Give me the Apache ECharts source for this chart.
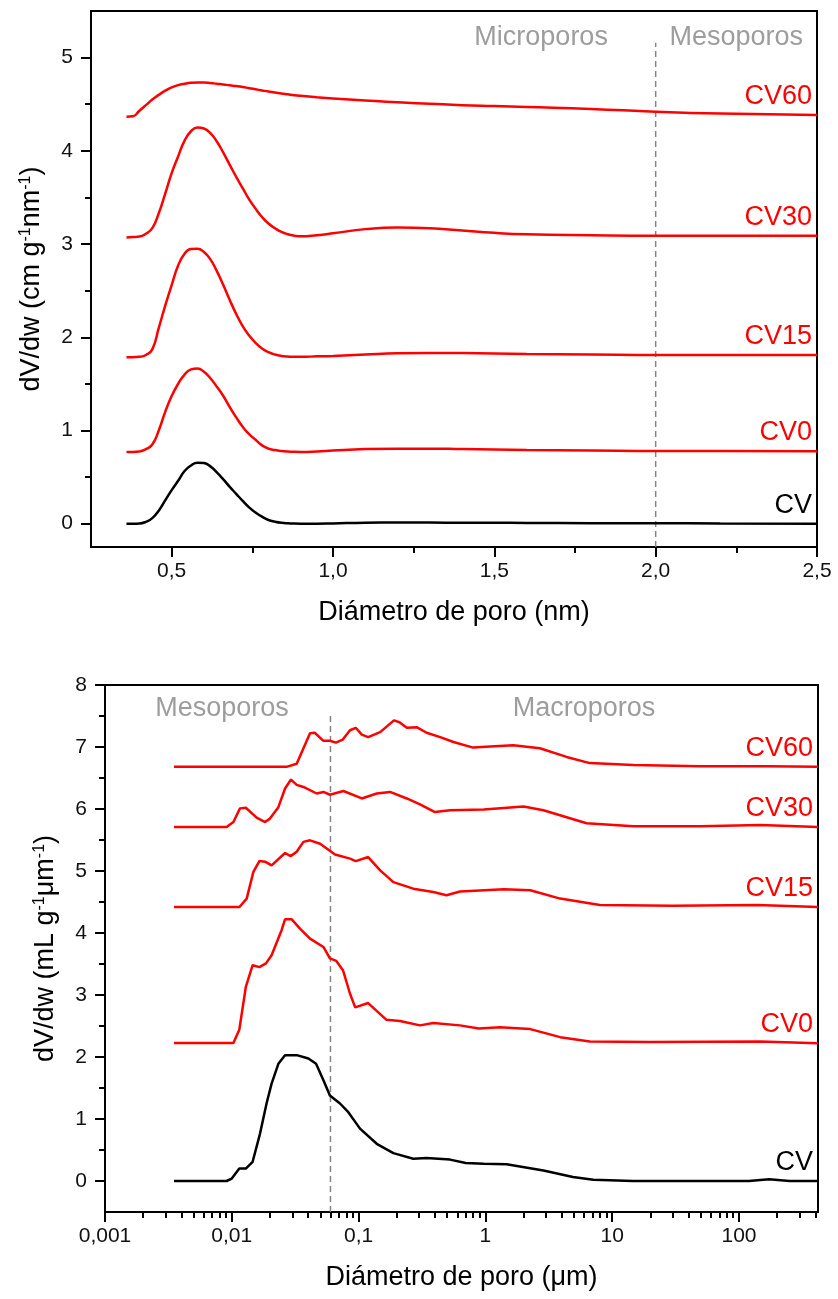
<!DOCTYPE html>
<html><head><meta charset="utf-8">
<script src="https://cdn.jsdelivr.net/npm/echarts@6/dist/echarts.min.js"></script>
<style>html,body{margin:0;padding:0;background:#fff}#c{width:838px;height:1299px}</style>
</head><body><div id="c"></div>
<script>
// ---------- Top panel: pore diameter (nm) ----------
const topX = [0.36,0.38,0.40,0.42,0.44,0.46,0.48,0.50,0.52,0.54,0.56,0.58,0.60,0.62,0.64,0.66,0.68,0.70,0.72,0.74,0.76,0.78,0.80,0.82,0.84,0.86,0.88,0.90,0.95,1.0,1.1,1.2,1.3,1.4,1.5,1.6,1.8,2.0,2.2,2.5];
const topCV   = [0,0,0.002,0.02,0.06,0.14,0.25,0.36,0.46,0.565,0.625,0.655,0.65,0.615,0.55,0.475,0.395,0.32,0.245,0.175,0.12,0.075,0.04,0.022,0.01,0.004,0.001,0,0,0.003,0.01,0.012,0.012,0.01,0.01,0.008,0.006,0.005,0.003,0];
const topCV0  = [0.77,0.77,0.775,0.80,0.85,1.00,1.20,1.37,1.50,1.60,1.655,1.665,1.63,1.56,1.47,1.37,1.25,1.14,1.04,0.96,0.90,0.84,0.805,0.79,0.78,0.774,0.771,0.77,0.775,0.785,0.80,0.805,0.805,0.80,0.795,0.79,0.785,0.78,0.78,0.778];
const topCV15 = [1.785,1.785,1.79,1.81,1.87,2.10,2.34,2.56,2.77,2.895,2.948,2.95,2.915,2.835,2.71,2.56,2.40,2.25,2.12,2.02,1.94,1.88,1.84,1.815,1.80,1.793,1.79,1.79,1.795,1.80,1.815,1.828,1.832,1.83,1.825,1.82,1.815,1.81,1.81,1.81];
const topCV30 = [3.07,3.075,3.08,3.11,3.17,3.33,3.54,3.76,3.94,4.11,4.21,4.25,4.24,4.19,4.10,3.98,3.85,3.72,3.60,3.48,3.38,3.29,3.22,3.17,3.13,3.105,3.09,3.083,3.095,3.115,3.16,3.178,3.17,3.145,3.12,3.105,3.095,3.09,3.09,3.09];
const topCV60 = [4.365,4.37,4.43,4.49,4.55,4.60,4.645,4.68,4.705,4.72,4.73,4.733,4.733,4.728,4.72,4.712,4.703,4.695,4.685,4.672,4.66,4.648,4.636,4.625,4.615,4.606,4.597,4.59,4.575,4.562,4.54,4.52,4.505,4.49,4.48,4.47,4.45,4.42,4.40,4.385];
const topXTicks = [0.5,1.0,1.5,2.0,2.5];
const topXMinor = [0.75,1.25,1.75,2.25];
const topYTicks = [0,1,2,3,4,5];
const topYMinor = [0.5,1.5,2.5,3.5,4.5];
const topBoundaryX = 2.0, topBoundaryY = [-0.25, 5.16];
const topNotes = [{name:'Microporos', x:1.645, y:5.22},{name:'Mesoporos', x:2.25, y:5.22}];

// ---------- Bottom panel: pore diameter (µm), log axis ----------
const cvX  = [0.0035,0.0091,0.010,0.01146,0.0129,0.0146,0.0167,0.0188,0.0206,0.0233,0.0263,0.0325,0.0402,0.0462,0.0528,0.0594,0.0713,0.083,0.1026,0.139,0.188,0.27,0.344,0.526,0.70,0.97,1.47,2.87,4.9,7.1,14.6,120,173,250,420];
const cvY  = [0,0,0.04,0.20,0.20,0.31,0.765,1.25,1.57,1.89,2.03,2.03,1.975,1.89,1.625,1.38,1.25,1.11,0.845,0.60,0.45,0.36,0.37,0.345,0.29,0.28,0.27,0.17,0.065,0.02,0,0,0.03,0,0];
const cv0X = [0.0035,0.0103,0.01146,0.0129,0.0146,0.0165,0.0186,0.0206,0.0247,0.0263,0.0297,0.0345,0.0414,0.0528,0.0594,0.0667,0.0753,0.0856,0.094,0.119,0.166,0.212,0.305,0.388,0.63,0.89,1.30,2.26,3.89,6.66,19.6,147,420];
const cv0Y = [2.226,2.226,2.44,3.13,3.48,3.45,3.51,3.64,4.045,4.22,4.22,4.07,3.91,3.775,3.59,3.55,3.40,3.02,2.80,2.87,2.60,2.58,2.51,2.55,2.51,2.46,2.48,2.45,2.32,2.25,2.24,2.25,2.22];
const cv15X = [0.0035,0.0115,0.0131,0.0148,0.0165,0.0183,0.0206,0.0263,0.0291,0.0325,0.0367,0.0414,0.0497,0.0652,0.0856,0.095,0.119,0.148,0.188,0.27,0.388,0.494,0.63,1.40,2.26,3.89,8.0,30,140,420];
const cv15Y = [4.42,4.42,4.555,4.985,5.16,5.15,5.09,5.29,5.24,5.31,5.47,5.495,5.44,5.265,5.20,5.16,5.225,5.01,4.82,4.715,4.66,4.61,4.67,4.705,4.69,4.555,4.45,4.44,4.45,4.42];
const cv30X = [0.0035,0.0091,0.0103,0.0116,0.0129,0.0157,0.0183,0.020,0.0233,0.0263,0.0293,0.0325,0.0367,0.0467,0.0528,0.0594,0.0759,0.106,0.139,0.177,0.24,0.305,0.40,0.526,0.97,2.0,2.87,6.28,14.7,50,147,420];
const cv30Y = [5.71,5.71,5.79,6.01,6.02,5.86,5.79,5.845,6.03,6.33,6.475,6.39,6.355,6.25,6.275,6.23,6.29,6.17,6.25,6.275,6.17,6.075,5.95,5.98,5.99,6.04,5.98,5.77,5.72,5.72,5.74,5.71];
const cv60X = [0.0035,0.027,0.0325,0.0414,0.0451,0.0528,0.0594,0.0662,0.075,0.0856,0.095,0.106,0.119,0.148,0.19,0.21,0.24,0.287,0.344,0.44,0.56,0.80,1.09,1.66,2.69,4.37,6.66,14.7,49,165,420];
const cv60Y = [6.68,6.68,6.73,7.22,7.23,7.10,7.10,7.07,7.12,7.27,7.31,7.20,7.16,7.24,7.43,7.40,7.31,7.32,7.23,7.16,7.08,6.99,7.01,7.03,6.98,6.84,6.74,6.71,6.69,6.69,6.68];
const botXMin = 0.001, botXMax = 420;
const botXDecades = [0.001,0.01,0.1,1,10,100];
const botXDecadeLabels = ['0,001','0,01','0,1','1','10','100'];
const botYTicks = [0,1,2,3,4,5,6,7,8];
const botYMinor = [0.5,1.5,2.5,3.5,4.5,5.5,6.5,7.5];
const botBoundaryX = 0.06, botBoundaryY = [-0.5, 7.51];
const botNotes = [{name:'Mesoporos', x:0.00838, y:7.62},{name:'Macroporos', x:6.0, y:7.62}];

// ---------- build ----------
const FONT = "'Liberation Sans', Arial, sans-serif";
const RED = '#ff0000', BLACK = '#000000', GRAY = '#858585';
const pairs = (xs, ys) => xs.map((x, i) => [x, ys[i]]);
const lg = v => Math.log10(v);
const majorLog = botXDecades.map(lg);
const minorLog = [];
botXDecades.forEach(d => { for (let k = 2; k <= 9; k++) { const v = d * k; if (v <= botXMax) minorLog.push(lg(v)); } });

const axisLine = {show:true, onZero:false, lineStyle:{color:'#000', width:2}};
const tickStyle = {color:'#000', width:2};
const labelBase = {fontSize:21, color:'#111', fontFamily:FONT};
const nameStyle = {fontSize:27, color:'#000', fontFamily:FONT,
  rich:{n:{fontSize:27, fontFamily:FONT, color:'#000'}, s:{fontSize:16, fontFamily:FONT, color:'#000', verticalAlign:'top', lineHeight:18}}};

function lineSeries(name, data, color, xi, yi, smooth) {
  return {type:'line', name, data, xAxisIndex:xi, yAxisIndex:yi, showSymbol:false, symbol:'none',
    smooth: smooth ? 0.5 : false, lineStyle:{color, width:2.5}, itemStyle:{color}, z:5,
    endLabel:{show:true, formatter:() => name, align:'right', verticalAlign:'bottom', distance:-5,
      fontSize:27, color, fontFamily:FONT, padding:[0,0,5,0]}};
}
function boundary(x, ys, xi, yi) {
  return {type:'line', data:[[x, ys[0]],[x, ys[1]]], xAxisIndex:xi, yAxisIndex:yi, showSymbol:false, symbol:'none',
    silent:true, lineStyle:{color:GRAY, width:1.5, type:[6,4]}, z:2};
}
function notes(list, xi, yi) {
  return {type:'scatter', xAxisIndex:xi, yAxisIndex:yi, symbolSize:1, silent:true, itemStyle:{color:'rgba(0,0,0,0)'},
    data:list.map(n => ({name:n.name, value:[n.x, n.y]})),
    label:{show:true, position:'inside', formatter:'{b}', fontSize:27, color:GRAY, fontFamily:FONT}, z:6};
}

const option = {
  backgroundColor:'#fff', animation:false,
  grid:[
    {left:91, top:11, right:21, height:536, show:true, borderColor:'#000', borderWidth:2},
    {left:105, top:685, right:20, height:527, show:true, borderColor:'#000', borderWidth:2}
  ],
  xAxis:[
    {gridIndex:0, type:'value', min:0.25, max:2.5, position:'bottom', axisLine, splitLine:{show:false},
     axisTick:{customValues:topXTicks, length:10, lineStyle:tickStyle},
     axisLabel:Object.assign({customValues:topXTicks, margin:14, formatter:v => v.toFixed(1).replace('.', ',')}, labelBase),
     name:'Diámetro de poro (nm)', nameLocation:'middle', nameGap:52, nameTextStyle:nameStyle},
    {gridIndex:0, type:'value', min:0.25, max:2.5, position:'bottom', axisLine:{show:false, onZero:false}, splitLine:{show:false},
     axisTick:{customValues:topXMinor, length:6, lineStyle:tickStyle}, axisLabel:{show:false}},
    {gridIndex:1, type:'log', logBase:10, min:botXMin, max:botXMax, position:'bottom', axisLine, splitLine:{show:false},
     axisTick:{show:false}, minorTick:{show:false}, axisLabel:{show:false},
     name:'Diámetro de poro (μm)', nameLocation:'middle', nameGap:52, nameTextStyle:nameStyle},
    {gridIndex:1, type:'value', min:lg(botXMin), max:lg(botXMax), position:'bottom', axisLine:{show:false, onZero:false}, splitLine:{show:false},
     axisTick:{customValues:majorLog, length:10, lineStyle:tickStyle},
     axisLabel:Object.assign({customValues:majorLog, margin:14,
       formatter:v => botXDecadeLabels[Math.round(v - lg(botXMin))]}, labelBase)},
    {gridIndex:1, type:'value', min:lg(botXMin), max:lg(botXMax), position:'bottom', axisLine:{show:false, onZero:false}, splitLine:{show:false},
     axisTick:{customValues:minorLog, length:6, lineStyle:tickStyle}, axisLabel:{show:false}}
  ],
  yAxis:[
    {gridIndex:0, type:'value', min:-0.25, max:5.5, position:'left', axisLine, splitLine:{show:false},
     axisTick:{customValues:topYTicks, length:10, lineStyle:tickStyle},
     axisLabel:Object.assign({customValues:topYTicks, margin:18, formatter:v => String(v)}, labelBase),
     name:'{n|dV/dw (cm g}{s|-1}{n|nm}{s|-1}{n|)}', nameLocation:'middle', nameRotate:90, nameGap:46, nameTextStyle:nameStyle},
    {gridIndex:0, type:'value', min:-0.25, max:5.5, position:'left', axisLine:{show:false, onZero:false}, splitLine:{show:false},
     axisTick:{customValues:topYMinor, length:6, lineStyle:tickStyle}, axisLabel:{show:false}},
    {gridIndex:1, type:'value', min:-0.5, max:8, position:'left', axisLine, splitLine:{show:false},
     axisTick:{customValues:botYTicks, length:10, lineStyle:tickStyle},
     axisLabel:Object.assign({customValues:botYTicks, margin:18, formatter:v => String(v)}, labelBase),
     name:'{n|dV/dw (mL g}{s|-1}{n|μm}{s|-1}{n|)}', nameLocation:'middle', nameRotate:90, nameGap:46, nameTextStyle:nameStyle},
    {gridIndex:1, type:'value', min:-0.5, max:8, position:'left', axisLine:{show:false, onZero:false}, splitLine:{show:false},
     axisTick:{customValues:botYMinor, length:6, lineStyle:tickStyle}, axisLabel:{show:false}}
  ],
  series:[
    boundary(topBoundaryX, topBoundaryY, 0, 0),
    lineSeries('CV',   pairs(topX, topCV),   BLACK, 0, 0, true),
    lineSeries('CV0',  pairs(topX, topCV0),  RED, 0, 0, true),
    lineSeries('CV15', pairs(topX, topCV15), RED, 0, 0, true),
    lineSeries('CV30', pairs(topX, topCV30), RED, 0, 0, true),
    lineSeries('CV60', pairs(topX, topCV60), RED, 0, 0, true),
    notes(topNotes, 0, 0),
    boundary(botBoundaryX, botBoundaryY, 2, 2),
    lineSeries('CV',   pairs(cvX, cvY),     BLACK, 2, 2, false),
    lineSeries('CV0',  pairs(cv0X, cv0Y),   RED, 2, 2, false),
    lineSeries('CV15', pairs(cv15X, cv15Y), RED, 2, 2, false),
    lineSeries('CV30', pairs(cv30X, cv30Y), RED, 2, 2, false),
    lineSeries('CV60', pairs(cv60X, cv60Y), RED, 2, 2, false),
    notes(botNotes, 2, 2)
  ]
};
const chart = echarts.init(document.getElementById('c'), null, {renderer:'canvas'});
chart.setOption(option);
</script>
</body></html>
